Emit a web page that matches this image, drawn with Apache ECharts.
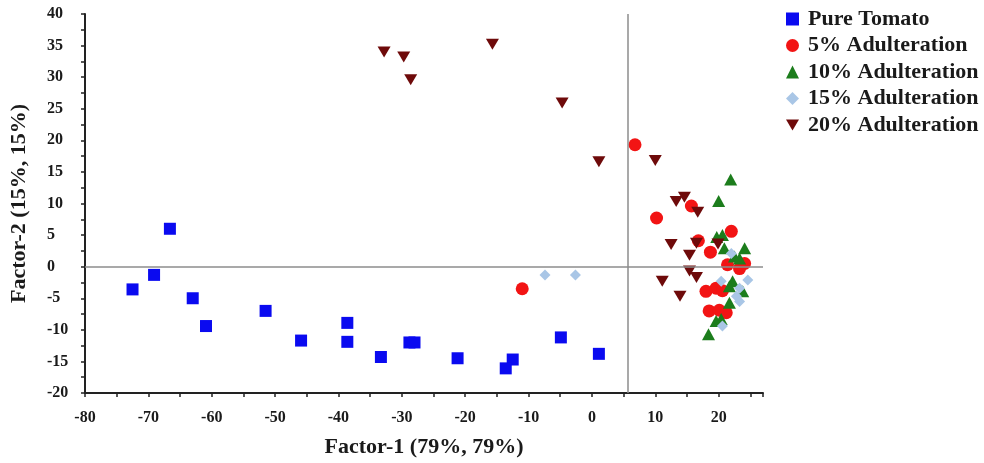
<!DOCTYPE html>
<html>
<head>
<meta charset="utf-8">
<script src="https://cdn.jsdelivr.net/npm/echarts@6/dist/echarts.min.js"></script>
<style>
  html, body { margin: 0; padding: 0; background: #ffffff; }
  #chart { width: 984px; height: 463px; }
</style>
</head>
<body>
<div id="chart"></div>
<script>
// Factor scores (Factor-1, Factor-2) for each sample group
const categories = ['Pure Tomato', '5% Adulteration', '10% Adulteration', '15% Adulteration', '20% Adulteration'];

const pureTomato = [
  [-66.6, 6.0], [-72.5, -3.6], [-69.1, -1.3], [-63.0, -5.0], [-60.9, -9.4],
  [-51.5, -7.0], [-45.9, -11.7], [-38.6, -8.9], [-38.6, -11.9], [-33.3, -14.3],
  [-28.8, -12.0], [-28.0, -12.0], [-21.2, -14.5], [-12.5, -14.7], [-13.6, -16.1],
  [-4.9, -11.2], [1.1, -13.8]
];

const adulteration5 = [
  [6.8, 19.3], [-11.0, -3.5], [15.7, 9.6], [10.2, 7.7], [22.0, 5.6],
  [16.8, 4.1], [18.7, 2.3], [21.4, 0.3], [23.3, -0.3], [24.1, 0.5],
  [18.0, -3.9], [19.6, -3.4], [20.6, -3.8], [18.5, -7.0], [20.1, -6.9],
  [21.2, -7.3]
];

const adulteration10 = [
  [21.9, 13.8], [20.0, 10.4], [19.7, 4.7], [20.6, 5.0], [20.9, 2.9],
  [24.1, 2.9], [22.5, 1.6], [23.3, 1.3], [22.2, -2.3], [21.7, -3.1],
  [23.8, -3.9], [21.7, -5.7], [20.4, -8.3], [19.6, -8.6], [18.4, -10.7]
];

const adulteration15 = [
  [-7.4, -1.3], [-2.6, -1.3], [22.0, 2.1], [20.4, -2.3], [24.6, -2.1],
  [23.3, -3.4], [22.8, -4.7], [23.3, -5.5], [20.6, -9.4]
];

const adulteration20 = [
  [-32.8, 34.0], [-29.7, 33.2], [-28.6, 29.6], [-15.7, 35.2], [-4.7, 25.9],
  [1.1, 16.6], [10.0, 16.8], [13.3, 10.3], [14.6, 11.0], [16.7, 8.6],
  [12.5, 3.5], [16.5, 3.7], [15.4, 1.8], [19.9, 3.6], [15.4, -0.7],
  [16.5, -1.7], [11.1, -2.3], [13.9, -4.7]
];

// Axis tick labels
const xTickLabels = [-80, -70, -60, -50, -40, -30, -20, -10, 0, 10, 20];
const yTickLabels = [-20, -15, -10, -5, 0, 5, 10, 15, 20, 25, 30, 35, 40];

// Quadrant reference lines
const refLineX = 5.6;
const refLineY = 0;

const FONT = '"Liberation Serif", "Times New Roman", serif';
const INK = '#1a1a1a';
const DOWN_TRIANGLE = 'path://M0,0L12,0L6,10Z';

const chart = echarts.init(document.getElementById('chart'), null, { renderer: 'canvas' });

chart.setOption({
  animation: false,
  backgroundColor: '#ffffff',
  grid: { left: 85, right: 221, top: 14, bottom: 65, containLabel: false },
  legend: {
    orient: 'vertical',
    left: 786,
    top: 8,
    padding: 0,
    itemWidth: 13,
    itemHeight: 13,
    itemGap: 4.5,
    data: categories,
    textStyle: {
      fontFamily: FONT,
      fontWeight: 'bold',
      fontSize: 22,
      lineHeight: 22,
      color: INK,
      padding: [0, 0, 0, 4]
    }
  },
  xAxis: {
    type: 'value',
    min: -80,
    max: 27,
    interval: 5,
    name: 'Factor-1 (79%, 79%)',
    nameLocation: 'middle',
    nameGap: 43,
    nameTextStyle: { fontFamily: FONT, fontWeight: 'bold', fontSize: 22, color: INK },
    axisLine: { show: true, onZero: false, lineStyle: { color: '#222', width: 2 } },
    axisTick: { show: true, inside: false, length: 4, lineStyle: { color: '#222', width: 1.5 } },
    splitLine: { show: false },
    axisLabel: {
      fontFamily: FONT,
      fontWeight: 'bold',
      fontSize: 16,
      color: INK,
      margin: 17,
      showMaxLabel: true,
      formatter: v => (xTickLabels.indexOf(v) >= 0 ? String(v) : '')
    }
  },
  yAxis: {
    type: 'value',
    min: -20,
    max: 40,
    interval: 2.5,
    name: 'Factor-2 (15%, 15%)',
    nameLocation: 'middle',
    nameGap: 55,
    nameTextStyle: { fontFamily: FONT, fontWeight: 'bold', fontSize: 22, color: INK },
    axisLine: { show: true, onZero: false, lineStyle: { color: '#222', width: 2 } },
    axisTick: { show: true, inside: false, length: 4, lineStyle: { color: '#222', width: 1.5 } },
    splitLine: { show: false },
    axisLabel: {
      fontFamily: FONT,
      fontWeight: 'bold',
      fontSize: 16,
      color: INK,
      align: 'left',
      margin: 38,
      formatter: v => (yTickLabels.indexOf(v) >= 0 ? String(v) : '')
    }
  },
  series: [
    {
      name: categories[0],
      type: 'scatter',
      symbol: 'rect',
      symbolSize: 12,
      itemStyle: { color: '#0a0af0', opacity: 1 },
      data: pureTomato,
      markLine: {
        silent: true,
        symbol: 'none',
        label: { show: false },
        lineStyle: { color: '#8c8c8c', width: 1.5, type: 'solid' },
        data: [{ xAxis: refLineX }, { yAxis: refLineY }]
      }
    },
    {
      name: categories[1],
      type: 'scatter',
      symbol: 'circle',
      symbolSize: 13,
      itemStyle: { color: '#f21414', opacity: 1 },
      data: adulteration5
    },
    {
      name: categories[2],
      type: 'scatter',
      symbol: 'triangle',
      symbolSize: [13, 12],
      itemStyle: { color: '#1c7d1c', opacity: 1 },
      data: adulteration10
    },
    {
      name: categories[3],
      type: 'scatter',
      symbol: 'diamond',
      symbolSize: 11,
      itemStyle: { color: '#a9c6e6', opacity: 1 },
      data: adulteration15
    },
    {
      name: categories[4],
      type: 'scatter',
      symbol: DOWN_TRIANGLE,
      symbolSize: [13, 11],
      itemStyle: { color: '#6e0a0a', opacity: 1 },
      data: adulteration20
    }
  ]
});
</script>
</body>
</html>
